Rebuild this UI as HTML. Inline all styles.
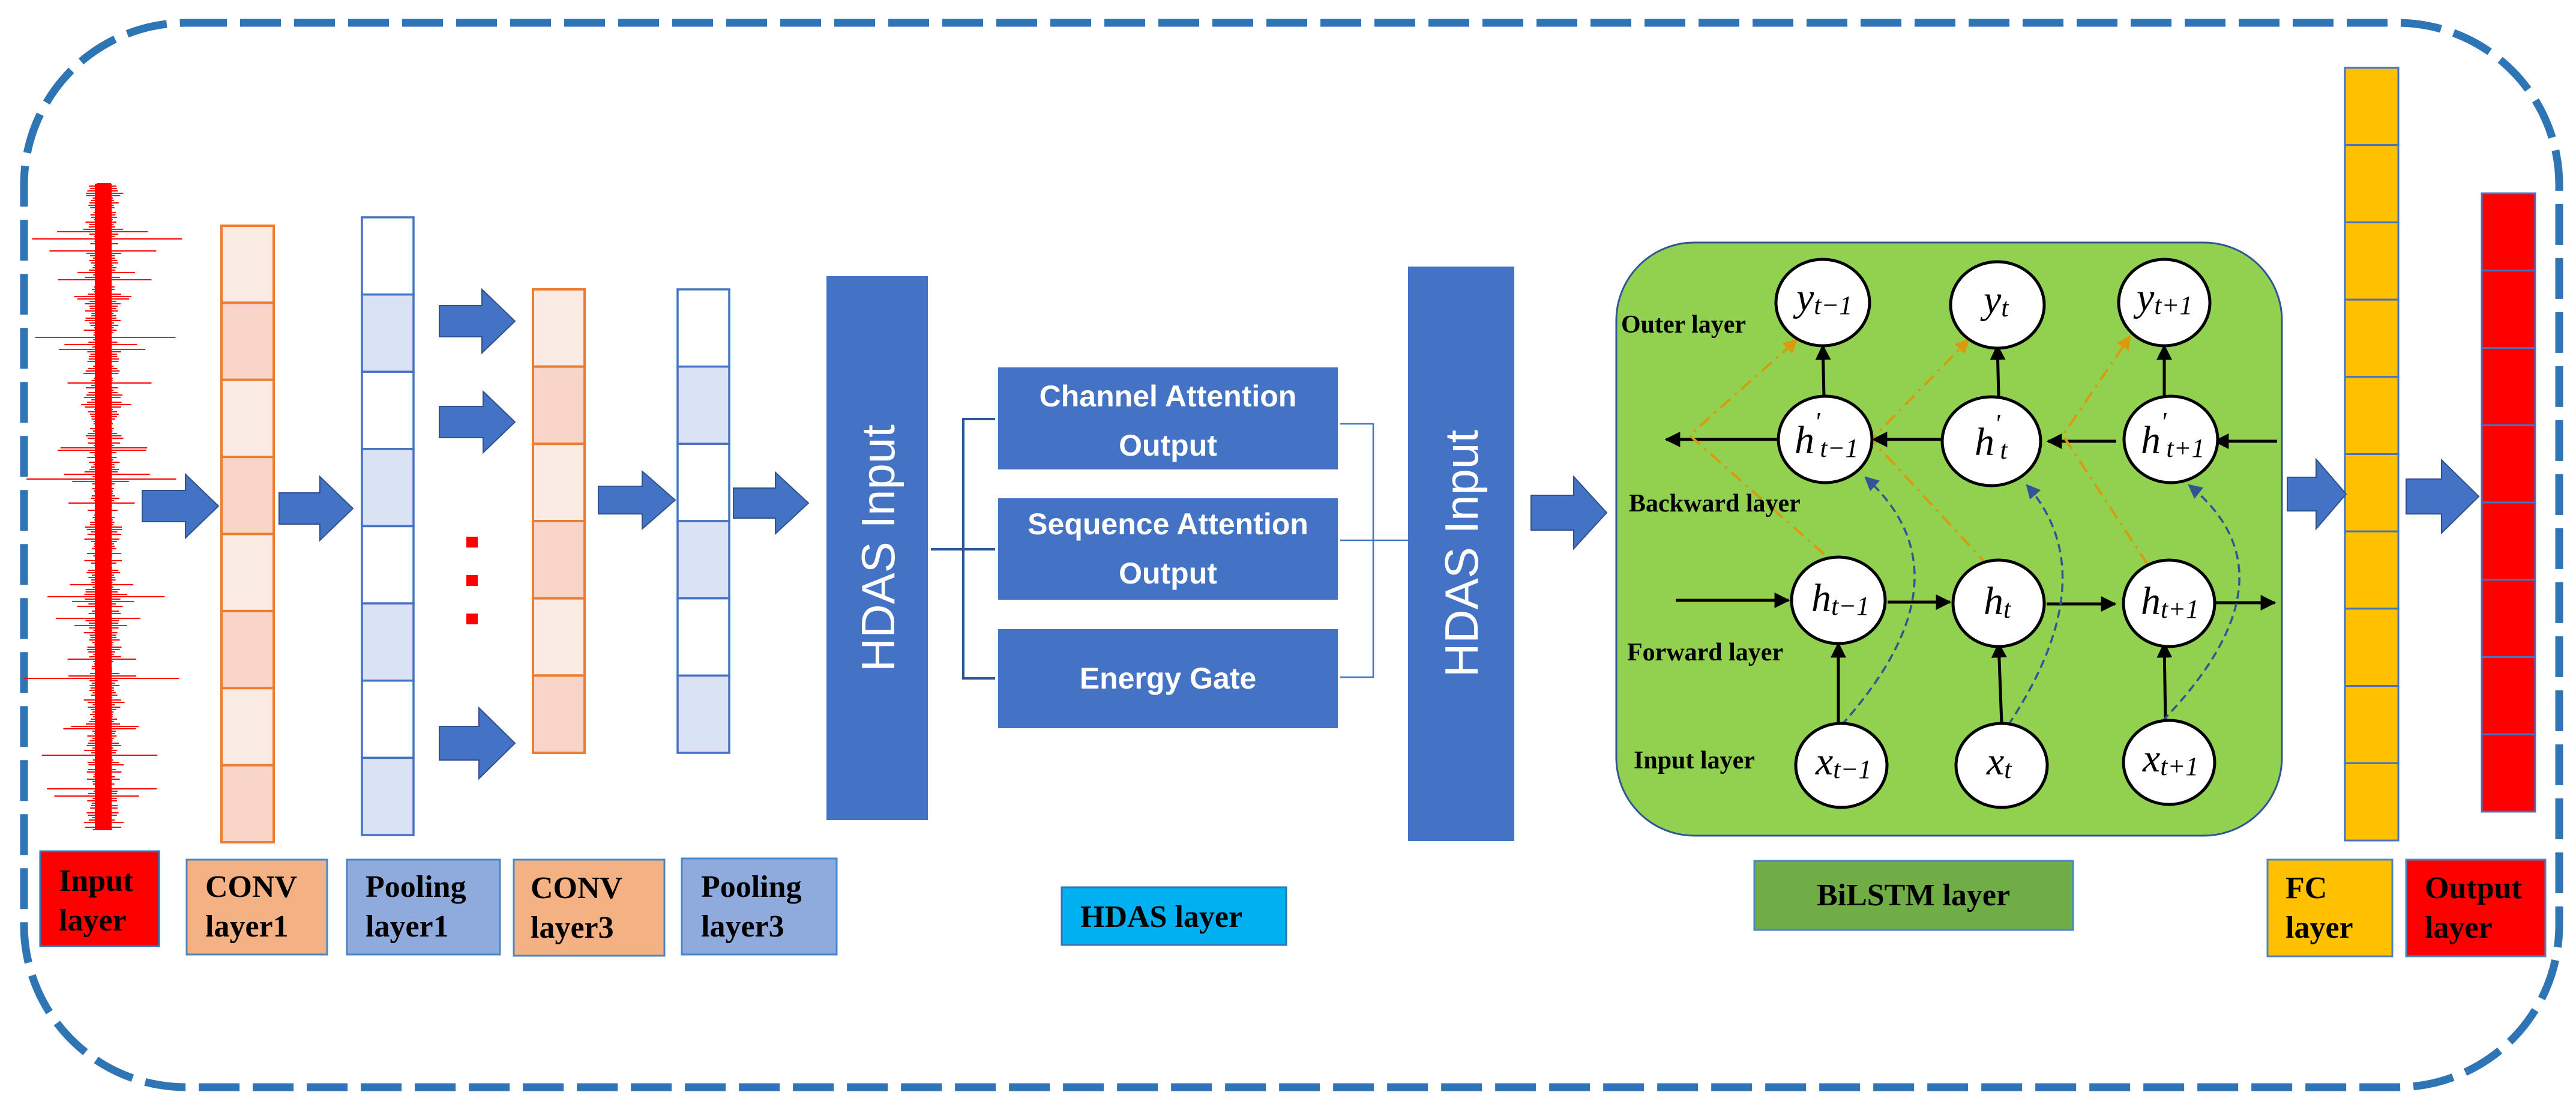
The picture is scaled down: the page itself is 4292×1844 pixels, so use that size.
<!DOCTYPE html>
<html><head><meta charset="utf-8"><style>
html,body{margin:0;padding:0;background:#fff;}
svg{display:block;}
.lbl{font-family:"Liberation Serif",serif;font-weight:bold;font-size:52px;fill:#000;}
.bx{font-family:"Liberation Sans",sans-serif;font-weight:bold;font-size:50px;fill:#fff;}
.hd{font-family:"Liberation Sans",sans-serif;font-size:78px;fill:#fff;}
.nd{font-family:"Liberation Serif",serif;font-style:italic;font-size:66px;fill:#000;}
.sb{font-size:44px;}
.ll{font-family:"Liberation Serif",serif;font-weight:bold;font-size:42px;fill:#000;}
</style></head><body>
<svg id="s" width="4292" height="1844" viewBox="0 0 4292 1844" xmlns="http://www.w3.org/2000/svg">
<defs>
<marker id="ak" viewBox="0 0 10 10" refX="9" refY="5" markerWidth="26" markerHeight="26" orient="auto" markerUnits="userSpaceOnUse"><path d="M0,0 L10,5 L0,10 z" fill="#000"/></marker>
<marker id="ao" viewBox="0 0 10 10" refX="9" refY="5" markerWidth="24" markerHeight="24" orient="auto" markerUnits="userSpaceOnUse"><path d="M0,0 L10,5 L0,10 z" fill="#d99a0e"/></marker>
<marker id="abl" viewBox="0 0 10 10" refX="9" refY="5" markerWidth="24" markerHeight="24" orient="auto" markerUnits="userSpaceOnUse"><path d="M0,0 L10,5 L0,10 z" fill="#2f5597"/></marker>
</defs>
<rect x="40" y="38" width="4224" height="1773" rx="270" ry="270" fill="none" stroke="#2e75b6" stroke-width="13" stroke-dasharray="68 22"/>
<g id="sig"></g>
<g id="cols"></g>
<g id="arr"></g>
<rect x="777" y="894" width="19" height="18" fill="#f00"/>
<rect x="777" y="958" width="19" height="18" fill="#f00"/>
<rect x="777" y="1022" width="19" height="18" fill="#f00"/>

<rect x="1377" y="460" width="169" height="906" fill="#4472c4"/>
<text class="hd" transform="translate(1490,913) rotate(-90)" text-anchor="middle">HDAS Input</text>
<rect x="2346" y="444" width="177" height="957" fill="#4472c4"/>
<text class="hd" transform="translate(2462,922) rotate(-90)" text-anchor="middle">HDAS Input</text>
<rect x="1663" y="612" width="566" height="170" fill="#4472c4"/>
<text class="bx" x="1946" y="677" text-anchor="middle">Channel Attention</text>
<text class="bx" x="1946" y="759" text-anchor="middle">Output</text>
<rect x="1663" y="830" width="566" height="169" fill="#4472c4"/>
<text class="bx" x="1946" y="890" text-anchor="middle">Sequence Attention</text>
<text class="bx" x="1946" y="972" text-anchor="middle">Output</text>
<rect x="1663" y="1048" width="566" height="165" fill="#4472c4"/>
<text class="bx" x="1946" y="1147" text-anchor="middle">Energy Gate</text>
<path d="M1551,915 H1658 M1658,698 H1605 V1130 H1658" fill="none" stroke="#2f5597" stroke-width="4"/>
<path d="M2233,706 H2288 V1128 H2233 M2233,900 H2346" fill="none" stroke="#4472c4" stroke-width="2.5"/>

<rect x="2693" y="404" width="1109" height="988" rx="130" ry="130" fill="#92d050" stroke="#2f5597" stroke-width="3"/>
<g fill="none" stroke="#000" stroke-width="5">
<line x1="3794" y1="735" x2="3690" y2="735" marker-end="url(#ak)"/>
<line x1="3526" y1="735" x2="3412" y2="735" marker-end="url(#ak)"/>
<line x1="3248" y1="732" x2="3121" y2="732" marker-end="url(#ak)"/>
<line x1="2962" y1="732" x2="2776" y2="732" marker-end="url(#ak)"/>
<line x1="2792" y1="1000" x2="2980" y2="1000" marker-end="url(#ak)"/>
<line x1="3145" y1="1003" x2="3249" y2="1003" marker-end="url(#ak)"/>
<line x1="3410" y1="1006" x2="3524" y2="1006" marker-end="url(#ak)"/>
<line x1="3686" y1="1004" x2="3790" y2="1004" marker-end="url(#ak)"/>
<line x1="3063" y1="1205" x2="3063" y2="1072" marker-end="url(#ak)"/>
<line x1="3335" y1="1205" x2="3330" y2="1072" marker-end="url(#ak)"/>
<line x1="3608" y1="1203" x2="3606" y2="1072" marker-end="url(#ak)"/>
<line x1="3039" y1="660" x2="3037" y2="576" marker-end="url(#ak)"/>
<line x1="3330" y1="660" x2="3328" y2="576" marker-end="url(#ak)"/>
<line x1="3606" y1="660" x2="3606" y2="576" marker-end="url(#ak)"/>
</g>
<g fill="none" stroke="#d99a0e" stroke-width="4" stroke-dasharray="22 10 4 10">
<path d="M3039,923 L2815,725 L2994,566" marker-end="url(#ao)"/>
<path d="M3313,943 L3118,732 L3280,566" marker-end="url(#ao)"/>
<path d="M3578,940 L3437,725 L3549,560" marker-end="url(#ao)"/>
</g>
<g fill="none" stroke="#2f5597" stroke-width="3.5" stroke-dasharray="14 8">
<path d="M3068,1208 Q3290,960 3108,795" marker-end="url(#abl)"/>
<path d="M3346,1208 Q3510,960 3377,808" marker-end="url(#abl)"/>
<path d="M3603,1201 Q3835,960 3647,808" marker-end="url(#abl)"/>
</g>
<g fill="#fff" stroke="#000" stroke-width="5">
<ellipse cx="3037" cy="504" rx="78" ry="72"/><ellipse cx="3328" cy="508" rx="78" ry="72"/><ellipse cx="3606" cy="504" rx="76" ry="72"/>
<ellipse cx="3041" cy="732" rx="78" ry="72"/><ellipse cx="3318" cy="735" rx="82" ry="74"/><ellipse cx="3617" cy="732" rx="78" ry="72"/>
<ellipse cx="3063" cy="1000" rx="78" ry="72"/><ellipse cx="3330" cy="1005" rx="76" ry="72"/><ellipse cx="3614" cy="1005" rx="76" ry="72"/>
<ellipse cx="3068" cy="1275" rx="76" ry="70"/><ellipse cx="3335" cy="1275" rx="76" ry="70"/><ellipse cx="3614" cy="1270" rx="76" ry="70"/>
</g>
<text class="nd" x="2993" y="517">y<tspan class="sb" dy="6">t−1</tspan></text>
<text class="nd" x="3305" y="521">y<tspan class="sb" dy="6">t</tspan></text>
<text class="nd" x="3560" y="517">y<tspan class="sb" dy="6">t+1</tspan></text>
<text class="nd" x="2990" y="755">h<tspan class="sb" dy="-38">'</tspan><tspan class="sb" dy="44">t−1</tspan></text>
<text class="nd" x="3290" y="758">h<tspan class="sb" dy="-38">'</tspan><tspan class="sb" dy="44">t</tspan></text>
<text class="nd" x="3567" y="755">h<tspan class="sb" dy="-38">'</tspan><tspan class="sb" dy="44">t+1</tspan></text>
<text class="nd" x="3018" y="1018">h<tspan class="sb" dy="6">t−1</tspan></text>
<text class="nd" x="3305" y="1023">h<tspan class="sb" dy="6">t</tspan></text>
<text class="nd" x="3567" y="1023">h<tspan class="sb" dy="6">t+1</tspan></text>
<text class="nd" x="3025" y="1290">x<tspan class="sb" dy="6">t−1</tspan></text>
<text class="nd" x="3310" y="1290">x<tspan class="sb" dy="6">t</tspan></text>
<text class="nd" x="3570" y="1285">x<tspan class="sb" dy="6">t+1</tspan></text>
<text class="ll" x="2701" y="554">Outer layer</text>
<text class="ll" x="2714" y="852">Backward layer</text>
<text class="ll" x="2711" y="1100">Forward layer</text>
<text class="ll" x="2722" y="1280">Input layer</text>

<rect x="67" y="1418" width="198" height="158" fill="#ff0000" stroke="#2e75b6" stroke-width="3"/>
<text class="lbl" x="98" y="1484">Input</text><text class="lbl" x="98" y="1550">layer</text>
<rect x="311" y="1432" width="234" height="158" fill="#f4b183" stroke="#4a86c5" stroke-width="3"/>
<text class="lbl" x="342" y="1494">CONV</text><text class="lbl" x="342" y="1560">layer1</text>
<rect x="578" y="1432" width="255" height="158" fill="#8faadc" stroke="#4a86c5" stroke-width="3"/>
<text class="lbl" x="609" y="1494">Pooling</text><text class="lbl" x="609" y="1560">layer1</text>
<rect x="856" y="1432" width="251" height="160" fill="#f4b183" stroke="#4a86c5" stroke-width="3"/>
<text class="lbl" x="884" y="1496">CONV</text><text class="lbl" x="884" y="1562">layer3</text>
<rect x="1136" y="1430" width="258" height="160" fill="#8faadc" stroke="#4a86c5" stroke-width="3"/>
<text class="lbl" x="1168" y="1494">Pooling</text><text class="lbl" x="1168" y="1560">layer3</text>
<rect x="1769" y="1478" width="374" height="96" fill="#00b0f0" stroke="#2e75b6" stroke-width="3"/>
<text class="lbl" x="1800" y="1544">HDAS layer</text>
<rect x="2923" y="1434" width="531" height="115" fill="#70ad47" stroke="#4a86c5" stroke-width="3"/>
<text class="lbl" x="3188" y="1508" text-anchor="middle" fill="#222">BiLSTM layer</text>
<rect x="3778" y="1432" width="208" height="161" fill="#ffc000" stroke="#4a86c5" stroke-width="3"/>
<text class="lbl" x="3808" y="1496">FC</text><text class="lbl" x="3808" y="1562">layer</text>
<rect x="4009" y="1432" width="232" height="161" fill="#ff0000" stroke="#4a86c5" stroke-width="3"/>
<text class="lbl" x="4040" y="1496">Output</text><text class="lbl" x="4040" y="1562">layer</text>
</svg>
<script>
(function(){
var NS="http://www.w3.org/2000/svg";
function el(p,t,a){var e=document.createElementNS(NS,t);for(var k in a)e.setAttribute(k,a[k]);p.appendChild(e);return e;}
var sig=document.getElementById('sig'),cols=document.getElementById('cols'),arr=document.getElementById('arr');
var seed=7;function r(){seed=(seed*16807)%2147483647;return seed/2147483647;}
var cx=172;
for(var y=306;y<=1382;y+=4){
 var w=12+r()*18;
 if(r()<0.08)w=35+r()*45;
 if(r()<0.02)w=85+r()*30;
 el(sig,'line',{x1:cx-w*(0.8+r()*0.4),y1:y,x2:cx+w*(0.8+r()*0.4),y2:y,stroke:'#f00','stroke-width':2});
}
el(sig,'rect',{x:cx-14,y:306,width:28,height:1076,fill:'#f00'});
function col(x,y,w,h,n,fills,stroke,sw){var ch=h/n;for(var i=0;i<n;i++){el(cols,'rect',{x:x,y:y+i*ch,width:w,height:ch,fill:fills[i%fills.length],stroke:stroke,'stroke-width':sw});}}
col(369,376,87,1027,8,['#fbebe5','#f8d5c8'],'#ed7d31',4);
col(603,362,86,1029,8,['#ffffff','#dae3f3'],'#4472c4',3.5);
col(888,482,86,772,6,['#fbebe5','#f8d5c8'],'#ed7d31',4);
col(1129,482,86,772,6,['#ffffff','#dae3f3'],'#4472c4',3.5);
col(3907,113,89,1287,10,['#ffc000'],'#4472c4',3);
col(4135,322,89,1030,8,['#ff0000'],'#4472c4',3);
function ar(x1,x2,cy,H,S,hl){var pts=[[x1,cy-S/2],[x2-hl,cy-S/2],[x2-hl,cy-H/2],[x2,cy],[x2-hl,cy+H/2],[x2-hl,cy+S/2],[x1,cy+S/2]];
 el(arr,'polygon',{points:pts.map(function(p){return p.join(',')}).join(' '),fill:'#4472c4',stroke:'#2f528f','stroke-width':2});}
ar(237,364,843,106,52,55);ar(465,588,847,106,52,55);
ar(732,858,535,106,52,55);ar(732,858,703,102,52,53);ar(732,858,1238,118,56,60);
ar(997,1125,833,96,46,55);ar(1222,1347,838,102,50,55);
ar(2551,2677,854,120,58,55);
ar(3811,3909,823,116,56,50);ar(4009,4130,827,122,58,62);
})();
</script>
</body></html>
